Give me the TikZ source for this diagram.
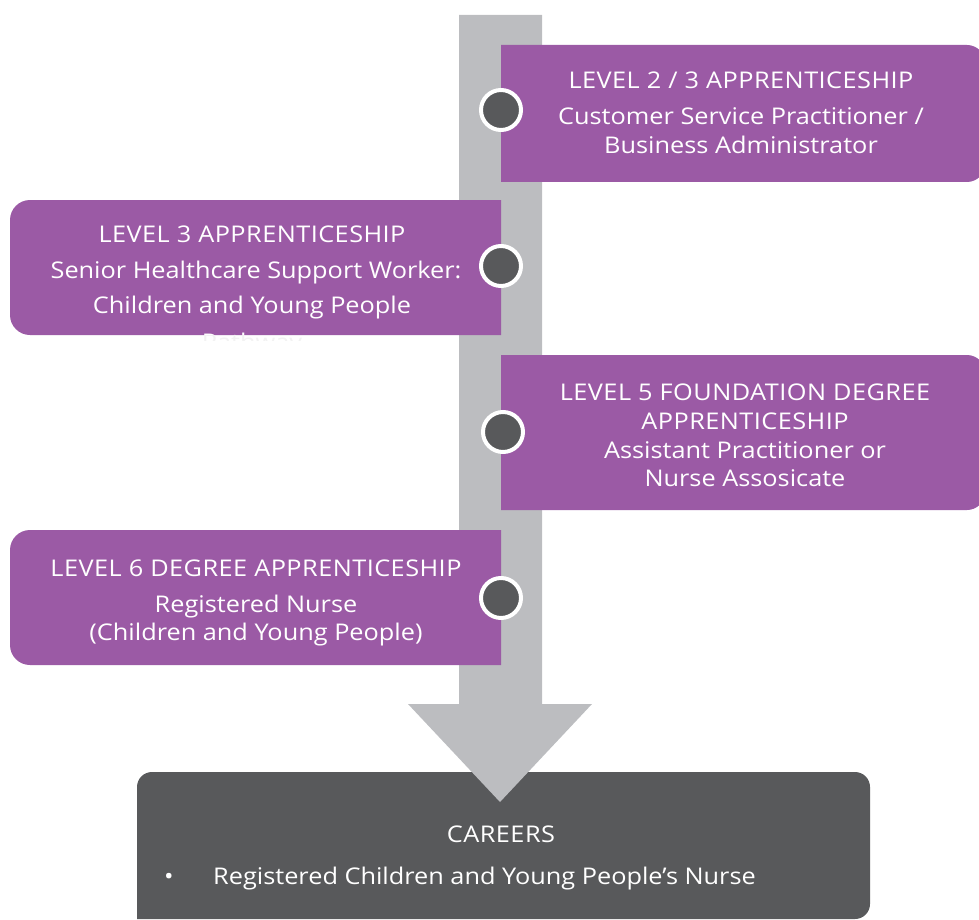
\documentclass[tikz,border=0pt]{standalone}
\usepackage{fontspec}
\setmainfont{Open Sans}[FakeStretch=1.1]
\definecolor{stepPurple}{HTML}{9B5AA5}
\definecolor{shaftGray}{HTML}{BCBDC0}
\definecolor{darkGray}{HTML}{58595B}

\tikzset{
  lbl/.style={text=white, font=\fontsize{23}{26}\selectfont, anchor=base, inner sep=0pt},
  headlbl/.style={lbl, font=\fontsize{23}{26}\selectfont\addfontfeatures{LetterSpace=2}},
  dot/.style={circle, fill=darkGray, draw=white, line width=4pt, minimum size=40pt, inner sep=0pt},
  stepfill/.style={fill=stepPurple},
}

\begin{document}
\begin{tikzpicture}[x=1pt,y=-1pt]
\useasboundingbox (0,0) rectangle (979,920);

% careers box (lies under the arrow head)
\fill[darkGray] (137,919) [rounded corners=15pt] -- (137,772) -- (870,772) -- (870,919) [sharp corners] -- cycle;

% grey arrow: shaft and head
\fill[shaftGray] (459,15) -- (542,15) -- (542,704) -- (592,704) -- (500,802) -- (408,704) -- (459,704) -- cycle;

% step boxes, rounded on the outer side only
\fill[stepfill] (501,45) [rounded corners=18pt] -- (985,45) -- (985,182) [sharp corners] -- (501,182) -- cycle;
\fill[stepfill] (501,200) [rounded corners=20pt] -- (10,200) -- (10,335) [sharp corners] -- (501,335) -- cycle;
\fill[stepfill] (501,355) [rounded corners=18pt] -- (985,355) -- (985,510) [sharp corners] -- (501,510) -- cycle;
\fill[stepfill] (501,530) [rounded corners=20pt] -- (10,530) -- (10,665) [sharp corners] -- (501,665) -- cycle;

% markers on the timeline
\node[dot] (d1) at (501,110) {};
\node[dot] (d2) at (501,266) {};
\node[dot] (d3) at (503,432) {};
\node[dot] (d4) at (501,598) {};

% step 1
\node[headlbl] (s1a) at (741,89) {LEVEL 2 / 3 APPRENTICESHIP};
\node[lbl] (s1b) at (741,125) {Customer Service Practitioner /};
\node[lbl] (s1c) at (741,154) {Business Administrator};

% step 2 (last line runs past the box and is cut off)
\node[headlbl] (s2a) at (252,242) {LEVEL 3 APPRENTICESHIP};
\node[lbl] (s2b) at (256,278) {Senior Healthcare Support Worker:};
\node[lbl] (s2c) at (252,313) {Children and Young People};
\begin{scope}
  \clip (0,320) rectangle (501,335);
  \node[lbl] (s2d) at (252,350) {Pathway};
\end{scope}
\begin{scope}
  \clip (0,335) rectangle (501,340);
  \node[lbl, text=black!5] (s2dout) at (252,350) {Pathway};
\end{scope}

% step 3
\node[headlbl] (s3a) at (745,400) {LEVEL 5 FOUNDATION DEGREE};
\node[headlbl] (s3b) at (745,429) {APPRENTICESHIP};
\node[lbl] (s3c) at (745,458) {Assistant Practitioner or};
\node[lbl] (s3d) at (745,486) {Nurse Assosicate};

% step 4
\node[headlbl] (s4a) at (256,576) {LEVEL 6 DEGREE APPRENTICESHIP};
\node[lbl] (s4b) at (256,612) {Registered Nurse};
\node[lbl] (s4c) at (256,640) {(Children and Young People)};

% careers
\node[headlbl] (c0) at (501,842) {CAREERS};
\node[lbl] (cb) at (169,884) {•};
\node[lbl, anchor=base west] (c1) at (213,884) {Registered Children and Young People’s Nurse};
\end{tikzpicture}
\end{document}
